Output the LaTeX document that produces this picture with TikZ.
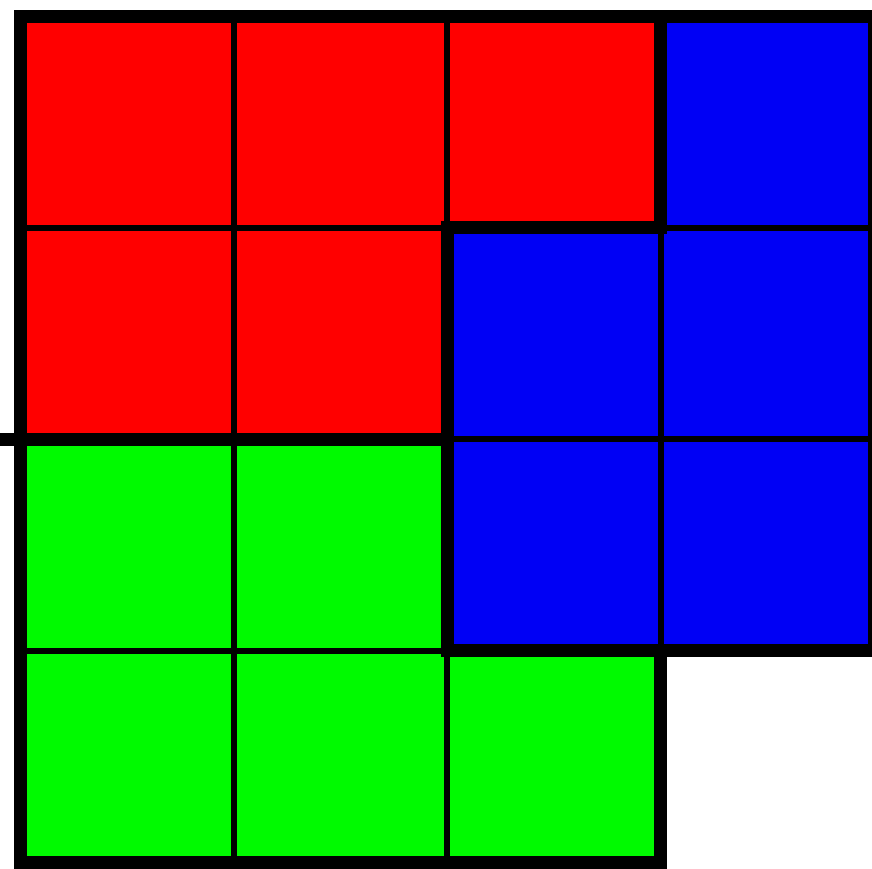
\documentclass[tikz,border=0pt]{standalone}
\usepackage{tikz}
\definecolor{tileRed}{RGB}{255,0,0}
\definecolor{tileBlue}{RGB}{0,0,245}
\definecolor{tileGreen}{RGB}{0,250,0}
\tikzset{
  cell/.style={draw=black, line width=0.8pt},
  region/.style={draw=black, line width=1.75pt, line join=miter, line cap=rect},
}
\begin{document}
\begin{tikzpicture}[x=1.01cm, y=1cm]
\useasboundingbox (-0.0937,-0.028) rectangle (3.988,4.0757);
% tiles, with thin grid lines
\foreach \x/\y/\c in {0/3/tileRed, 1/3/tileRed, 2/3/tileRed, 3/3/tileBlue,
                      0/2/tileRed, 1/2/tileRed, 2/2/tileBlue, 3/2/tileBlue,
                      0/1/tileGreen, 1/1/tileGreen, 2/1/tileBlue, 3/1/tileBlue,
                      0/0/tileGreen, 1/0/tileGreen, 2/0/tileGreen}
  \filldraw[cell, fill=\c] (\x,\y) rectangle ++(1,1);
% region borders
\draw[region] (0,0) -- (0,4) -- (4,4) -- (4,1) -- (3,1) -- (3,0) -- cycle;
\draw[region] (3,4) -- (3,3) -- (2,3) -- (2,1) -- (3,1);
\draw[region] (-0.07,2) -- (2,2);
\end{tikzpicture}
\end{document}
